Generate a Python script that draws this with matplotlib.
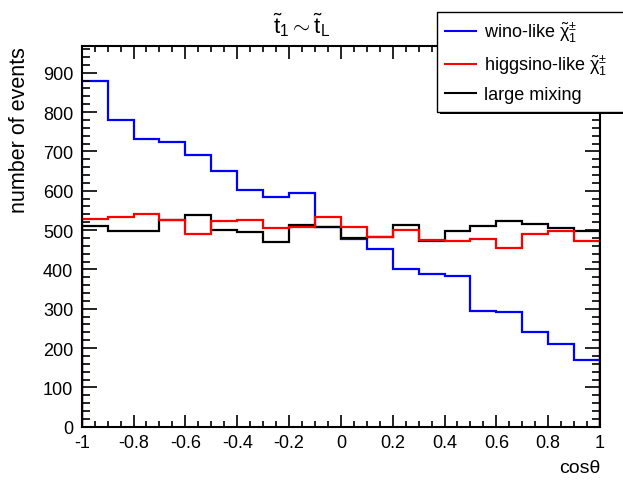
import numpy as np
import matplotlib
matplotlib.use('Agg')
import matplotlib.pyplot as plt
from matplotlib.ticker import MultipleLocator, FuncFormatter

plt.rcParams['font.family'] = ['Liberation Sans', 'DejaVu Sans']
plt.rcParams['mathtext.fontset'] = 'custom'
plt.rcParams['mathtext.rm'] = 'Liberation Sans'
plt.rcParams['mathtext.it'] = 'Liberation Sans'
plt.rcParams['mathtext.bf'] = 'Liberation Sans:bold'

# 20 bins in cos(theta)
bin_edges = np.linspace(-1, 1, 21)

wino = [880, 780, 732, 724, 690, 651, 602, 583, 593, 507,
        477, 451, 400, 388, 384, 293, 292, 241, 211, 170]
higgsino = [527, 533, 541, 526, 490, 524, 526, 506, 508, 533,
            508, 483, 500, 474, 472, 476, 454, 491, 498, 473]
mixing = [510, 497, 497, 526, 538, 499, 495, 469, 513, 508,
          479, 482, 512, 472, 498, 510, 522, 515, 504, 498]

labels = [r'wino-like $\tilde{\chi}^{\pm}_{1}$',
          r'higgsino-like $\tilde{\chi}^{\pm}_{1}$',
          'large mixing']

W, H = 623, 481
fig = plt.figure(figsize=(W / 100, H / 100), dpi=100)
ax = fig.add_axes([81.7 / W, 1 - 427.7 / H, (600 - 81.7) / W, (427.7 - 47) / H])

lw = 1.6
h1 = ax.stairs(wino, bin_edges, baseline=0, color='#0000ff', lw=lw, label=labels[0])
h3 = ax.stairs(mixing, bin_edges, baseline=0, color='black', lw=lw, label=labels[2])
h2 = ax.stairs(higgsino, bin_edges, baseline=0, color='#ff0000', lw=lw, label=labels[1])

ax.set_xlim(-1, 1)
ax.set_ylim(0, 968)

ax.xaxis.set_major_locator(MultipleLocator(0.2))
ax.xaxis.set_minor_locator(MultipleLocator(0.05))
ax.yaxis.set_major_locator(MultipleLocator(100))
ax.yaxis.set_minor_locator(MultipleLocator(20))
ax.xaxis.set_major_formatter(FuncFormatter(lambda v, p: '%g' % round(v, 2)))

for s in ax.spines.values():
    s.set_linewidth(1.5)

ax.tick_params(which='both', direction='in', top=True, right=True, width=1.2,
               labelsize=13)
ax.tick_params(axis='x', which='major', length=9, pad=5)
ax.tick_params(axis='x', which='minor', length=4.3)
ax.tick_params(axis='y', which='major', length=11, pad=6)
ax.tick_params(axis='y', which='minor', length=5.5)

# axis titles, ROOT style (aligned to the axis end)
fig.text(20 / W, 1 - 46.7 / H, 'number of events', rotation=90,
         ha='center', va='top', fontsize=15.5)
ax.set_xlabel('cos\u03b8', fontsize=14, loc='right')
ax.xaxis.set_label_coords(1.0, -0.085)

fig.text(302 / W, 1 - 25 / H, r'$\tilde{\mathrm{t}}_{1} \sim \tilde{\mathrm{t}}_{\mathrm{L}}$',
         ha='center', va='center', fontsize=16)

leg = ax.legend(handles=[h1, h2, h3], labels=labels,
                loc='upper left', mode='expand',
                bbox_to_anchor=(437 / W, 1 - 107 / H, 200 / W, 94.3 / H),
                bbox_transform=fig.transFigure, borderaxespad=0,
                fontsize=13, handlelength=1.7, handletextpad=0.45,
                labelspacing=0.5, borderpad=0.45, fancybox=False,
                edgecolor='black', framealpha=1,
                shadow={'color': 'black', 'alpha': 1, 'linewidth': 0})
leg.get_frame().set_linewidth(1.0)
for line in leg.get_lines():
    line.set_linewidth(1.5)

fig.savefig('out.png', dpi=100)
